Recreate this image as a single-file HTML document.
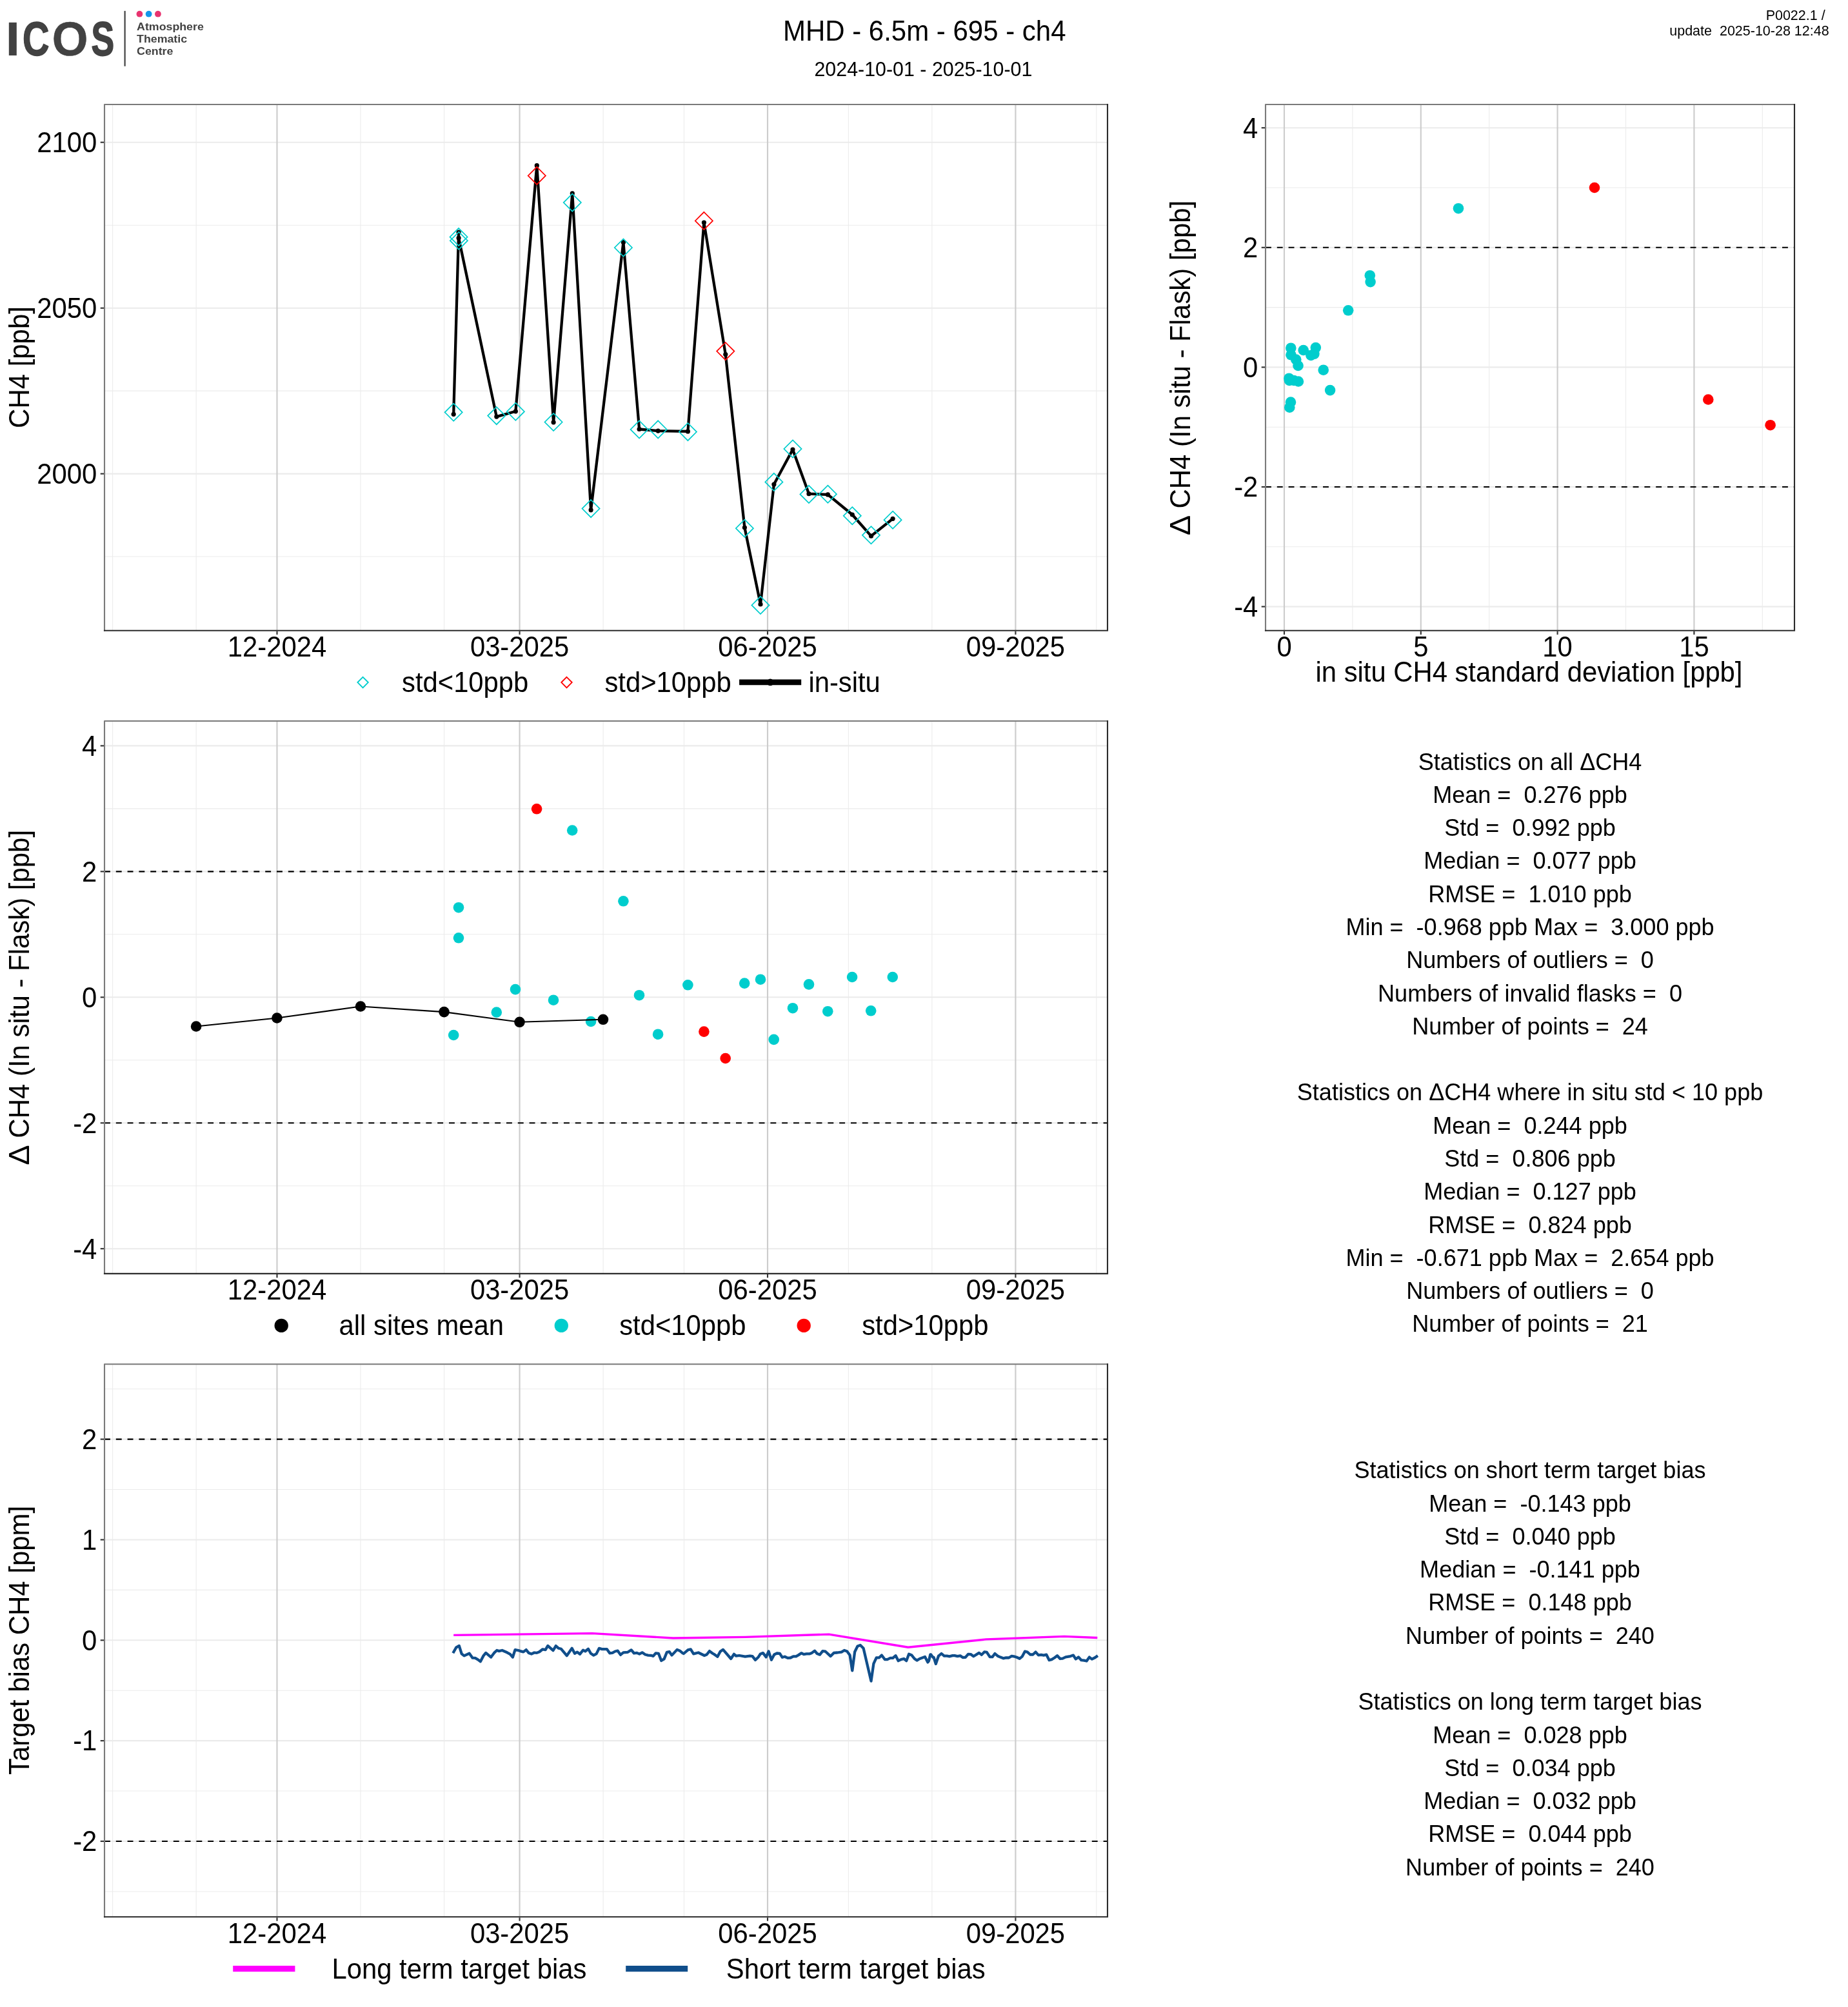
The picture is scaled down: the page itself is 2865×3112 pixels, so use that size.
<!DOCTYPE html>
<html><head><meta charset="utf-8"><title>MHD - 6.5m - 695 - ch4</title>
<style>
html,body{margin:0;padding:0;background:#fff;}
body{width:2865px;height:3112px;overflow:hidden;}
svg{display:block;will-change:transform;}
svg text{font-family:"Liberation Sans",sans-serif;fill:#000;white-space:pre;}
</style></head><body>
<svg width="2865" height="3112" viewBox="0 0 2865 3112">
<rect width="2865" height="3112" fill="#fff"/>

<!-- logo -->
<g font-weight="bold">
<text transform="translate(8.26 85.6) scale(1.108 1)" font-size="75" style="fill:#424242">I</text>
<text transform="translate(35.0 85.6) scale(0.765 1)" font-size="75" style="fill:#424242" stroke="#424242" stroke-width="1.6" stroke-linejoin="round">C</text>
<text transform="translate(80.72 85.6) scale(0.954 1)" font-size="75" style="fill:#424242" stroke="#424242" stroke-width="0.6" stroke-linejoin="round">O</text>
<text transform="translate(141.6 85.6) scale(0.712 1)" font-size="75" style="fill:#424242" stroke="#424242" stroke-width="1.8" stroke-linejoin="round">S</text>
<text transform="translate(212.05 46.9) scale(1.113 1)" font-size="16" style="fill:#424242">Atmosphere</text>
<text transform="translate(212.05 65.7) scale(1.113 1)" font-size="16" style="fill:#424242">Thematic</text>
<text transform="translate(212.05 84.5) scale(1.113 1)" font-size="16" style="fill:#424242">Centre</text>
</g>
<line x1="193.6" x2="193.6" y1="16.9" y2="102.7" stroke="#424242" stroke-width="2.2"/>
<circle cx="216.4" cy="21.7" r="4.9" fill="#e8336f"/><circle cx="230.6" cy="21.7" r="4.9" fill="#1496ea"/><circle cx="244.9" cy="21.7" r="4.9" fill="#e8336f"/>
<text transform="translate(1433.20 62.90) scale(1 1.04)" font-size="42.0" text-anchor="middle">MHD - 6.5m - 695 - ch4</text>
<text transform="translate(1431.40 117.80) scale(1 1.04)" font-size="30.4" text-anchor="middle">2024-10-01 - 2025-10-01</text>
<text transform="translate(2835.60 30.70) scale(1 1.04)" font-size="21.5" text-anchor="end">P0022.1 / </text>
<text transform="translate(2835.60 54.50) scale(1 1.04)" font-size="21.5" text-anchor="end">update  2025-10-28 12:48</text>
<!-- panel 1 -->
<line x1="174.60" x2="174.60" y1="162" y2="977.7" stroke="#ebebeb" stroke-width="1.07"/>
<line x1="304.14" x2="304.14" y1="162" y2="977.7" stroke="#ebebeb" stroke-width="1.07"/>
<line x1="559.03" x2="559.03" y1="162" y2="977.7" stroke="#ebebeb" stroke-width="1.07"/>
<line x1="688.57" x2="688.57" y1="162" y2="977.7" stroke="#ebebeb" stroke-width="1.07"/>
<line x1="935.11" x2="935.11" y1="162" y2="977.7" stroke="#ebebeb" stroke-width="1.07"/>
<line x1="1060.46" x2="1060.46" y1="162" y2="977.7" stroke="#ebebeb" stroke-width="1.07"/>
<line x1="1315.36" x2="1315.36" y1="162" y2="977.7" stroke="#ebebeb" stroke-width="1.07"/>
<line x1="1444.89" x2="1444.89" y1="162" y2="977.7" stroke="#ebebeb" stroke-width="1.07"/>
<line x1="1699.79" x2="1699.79" y1="162" y2="977.7" stroke="#ebebeb" stroke-width="1.07"/>
<line x1="162" x2="1717" y1="349.20" y2="349.20" stroke="#ebebeb" stroke-width="1.07"/>
<line x1="162" x2="1717" y1="606.10" y2="606.10" stroke="#ebebeb" stroke-width="1.07"/>
<line x1="162" x2="1717" y1="863.00" y2="863.00" stroke="#ebebeb" stroke-width="1.07"/>
<line x1="162" x2="1717" y1="220.70" y2="220.70" stroke="#ebebeb" stroke-width="2.13"/>
<line x1="162" x2="1717" y1="477.70" y2="477.70" stroke="#ebebeb" stroke-width="2.13"/>
<line x1="162" x2="1717" y1="734.60" y2="734.60" stroke="#ebebeb" stroke-width="2.13"/>
<line x1="429.49" x2="429.49" y1="162" y2="977.7" stroke="#cccccc" stroke-width="2.13"/>
<line x1="805.57" x2="805.57" y1="162" y2="977.7" stroke="#cccccc" stroke-width="2.13"/>
<line x1="1190.00" x2="1190.00" y1="162" y2="977.7" stroke="#cccccc" stroke-width="2.13"/>
<line x1="1574.43" x2="1574.43" y1="162" y2="977.7" stroke="#cccccc" stroke-width="2.13"/>
<polyline fill="none" stroke="#000" stroke-width="4.27" stroke-linejoin="round" stroke-linecap="butt" points="703.2,642.3 711.1,360.2 711.1,369.0 769.8,646.1 799.4,637.8 832.3,256.7 858.1,654.8 887.3,299.9 916.1,790.8 966.4,375.7 991.1,665.5 1020.2,668.1 1066.4,668.9 1091.4,345.0 1124.8,549.5 1154.4,818.0 1179.0,937.0 1199.9,751.0 1229.0,697.0 1254.0,765.7 1283.4,766.9 1321.3,798.0 1350.5,831.2 1384.1,804.3"/>
<g fill="#000"><circle cx="703.2" cy="642.3" r="3.6"/><circle cx="711.1" cy="360.2" r="3.6"/><circle cx="711.1" cy="369.0" r="3.6"/><circle cx="769.8" cy="646.1" r="3.6"/><circle cx="799.4" cy="637.8" r="3.6"/><circle cx="832.3" cy="256.7" r="3.6"/><circle cx="858.1" cy="654.8" r="3.6"/><circle cx="887.3" cy="299.9" r="3.6"/><circle cx="916.1" cy="790.8" r="3.6"/><circle cx="966.4" cy="375.7" r="3.6"/><circle cx="991.1" cy="665.5" r="3.6"/><circle cx="1020.2" cy="668.1" r="3.6"/><circle cx="1066.4" cy="668.9" r="3.6"/><circle cx="1091.4" cy="345.0" r="3.6"/><circle cx="1124.8" cy="549.5" r="3.6"/><circle cx="1154.4" cy="818.0" r="3.6"/><circle cx="1179.0" cy="937.0" r="3.6"/><circle cx="1199.9" cy="751.0" r="3.6"/><circle cx="1229.0" cy="697.0" r="3.6"/><circle cx="1254.0" cy="765.7" r="3.6"/><circle cx="1283.4" cy="766.9" r="3.6"/><circle cx="1321.3" cy="798.0" r="3.6"/><circle cx="1350.5" cy="831.2" r="3.6"/><circle cx="1384.1" cy="804.3" r="3.6"/></g>
<path d="M703.20 625.70L716.80 639.30L703.20 652.90L689.60 639.30Z" fill="none" stroke="#00cdcd" stroke-width="1.7"/>
<path d="M711.10 353.80L724.70 367.40L711.10 381.00L697.50 367.40Z" fill="none" stroke="#00cdcd" stroke-width="1.7"/>
<path d="M711.40 359.60L725.00 373.20L711.40 386.80L697.80 373.20Z" fill="none" stroke="#00cdcd" stroke-width="1.7"/>
<path d="M769.80 631.00L783.40 644.60L769.80 658.20L756.20 644.60Z" fill="none" stroke="#00cdcd" stroke-width="1.7"/>
<path d="M799.40 624.60L813.00 638.20L799.40 651.80L785.80 638.20Z" fill="none" stroke="#00cdcd" stroke-width="1.7"/>
<path d="M832.30 258.80L845.90 272.40L832.30 286.00L818.70 272.40Z" fill="none" stroke="#ff0000" stroke-width="1.7"/>
<path d="M858.10 640.90L871.70 654.50L858.10 668.10L844.50 654.50Z" fill="none" stroke="#00cdcd" stroke-width="1.7"/>
<path d="M887.30 300.50L900.90 314.10L887.30 327.70L873.70 314.10Z" fill="none" stroke="#00cdcd" stroke-width="1.7"/>
<path d="M916.10 775.00L929.70 788.60L916.10 802.20L902.50 788.60Z" fill="none" stroke="#00cdcd" stroke-width="1.7"/>
<path d="M966.40 370.40L980.00 384.00L966.40 397.60L952.80 384.00Z" fill="none" stroke="#00cdcd" stroke-width="1.7"/>
<path d="M991.10 652.30L1004.70 665.90L991.10 679.50L977.50 665.90Z" fill="none" stroke="#00cdcd" stroke-width="1.7"/>
<path d="M1020.20 652.30L1033.80 665.90L1020.20 679.50L1006.60 665.90Z" fill="none" stroke="#00cdcd" stroke-width="1.7"/>
<path d="M1066.40 656.00L1080.00 669.60L1066.40 683.20L1052.80 669.60Z" fill="none" stroke="#00cdcd" stroke-width="1.7"/>
<path d="M1091.40 328.80L1105.00 342.40L1091.40 356.00L1077.80 342.40Z" fill="none" stroke="#ff0000" stroke-width="1.7"/>
<path d="M1124.80 531.00L1138.40 544.60L1124.80 558.20L1111.20 544.60Z" fill="none" stroke="#ff0000" stroke-width="1.7"/>
<path d="M1154.40 805.60L1168.00 819.20L1154.40 832.80L1140.80 819.20Z" fill="none" stroke="#00cdcd" stroke-width="1.7"/>
<path d="M1179.00 924.80L1192.60 938.40L1179.00 952.00L1165.40 938.40Z" fill="none" stroke="#00cdcd" stroke-width="1.7"/>
<path d="M1199.90 733.80L1213.50 747.40L1199.90 761.00L1186.30 747.40Z" fill="none" stroke="#00cdcd" stroke-width="1.7"/>
<path d="M1229.00 682.40L1242.60 696.00L1229.00 709.60L1215.40 696.00Z" fill="none" stroke="#00cdcd" stroke-width="1.7"/>
<path d="M1254.00 752.80L1267.60 766.40L1254.00 780.00L1240.40 766.40Z" fill="none" stroke="#00cdcd" stroke-width="1.7"/>
<path d="M1283.40 752.60L1297.00 766.20L1283.40 779.80L1269.80 766.20Z" fill="none" stroke="#00cdcd" stroke-width="1.7"/>
<path d="M1321.30 786.20L1334.90 799.80L1321.30 813.40L1307.70 799.80Z" fill="none" stroke="#00cdcd" stroke-width="1.7"/>
<path d="M1350.50 816.20L1364.10 829.80L1350.50 843.40L1336.90 829.80Z" fill="none" stroke="#00cdcd" stroke-width="1.7"/>
<path d="M1384.10 792.60L1397.70 806.20L1384.10 819.80L1370.50 806.20Z" fill="none" stroke="#00cdcd" stroke-width="1.7"/>
<path d="M162 978.7700000000001V162H1718.07" fill="none" stroke="#7a7a7a" stroke-width="2.1" stroke-linejoin="round"/><path d="M160.93 977.7H1717V160.93" fill="none" stroke="#2b2b2b" stroke-width="2.1"/>
<line x1="155.70" x2="161.00" y1="220.70" y2="220.70" stroke="#333" stroke-width="2.13"/>
<text transform="translate(150.30 236.00) scale(1 1.04)" font-size="41.8" text-anchor="end">2100</text>
<line x1="155.70" x2="161.00" y1="477.70" y2="477.70" stroke="#333" stroke-width="2.13"/>
<text transform="translate(150.30 493.00) scale(1 1.04)" font-size="41.8" text-anchor="end">2050</text>
<line x1="155.70" x2="161.00" y1="734.60" y2="734.60" stroke="#333" stroke-width="2.13"/>
<text transform="translate(150.30 749.90) scale(1 1.04)" font-size="41.8" text-anchor="end">2000</text>
<line x1="429.49" x2="429.49" y1="978.70" y2="984.00" stroke="#333" stroke-width="2.13"/>
<text transform="translate(429.49 1018.00) scale(1 1.04)" font-size="41.8" text-anchor="middle">12-2024</text>
<line x1="805.57" x2="805.57" y1="978.70" y2="984.00" stroke="#333" stroke-width="2.13"/>
<text transform="translate(805.57 1018.00) scale(1 1.04)" font-size="41.8" text-anchor="middle">03-2025</text>
<line x1="1190.00" x2="1190.00" y1="978.70" y2="984.00" stroke="#333" stroke-width="2.13"/>
<text transform="translate(1190.00 1018.00) scale(1 1.04)" font-size="41.8" text-anchor="middle">06-2025</text>
<line x1="1574.43" x2="1574.43" y1="978.70" y2="984.00" stroke="#333" stroke-width="2.13"/>
<text transform="translate(1574.43 1018.00) scale(1 1.04)" font-size="41.8" text-anchor="middle">09-2025</text>
<text transform="translate(45.1 569.5) rotate(-90) scale(1 1.04)" text-anchor="middle" font-size="41.95">CH4 [ppb]</text>
<path d="M562.60 1049.90L570.80 1058.10L562.60 1066.30L554.40 1058.10Z" fill="none" stroke="#00cdcd" stroke-width="1.9"/>
<text transform="translate(623.00 1073.00) scale(1 1.04)" font-size="41.8">std&lt;10ppb</text>
<path d="M878.50 1049.90L886.70 1058.10L878.50 1066.30L870.30 1058.10Z" fill="none" stroke="#ff0000" stroke-width="1.9"/>
<text transform="translate(937.40 1073.00) scale(1 1.04)" font-size="41.8">std&gt;10ppb</text>
<line x1="1146.1" x2="1242.2" y1="1057.9" y2="1057.9" stroke="#000" stroke-width="8.6"/>
<circle cx="1194.2" cy="1057.9" r="5.3" fill="#000"/>
<text transform="translate(1253.40 1072.80) scale(1 1.04)" font-size="41.8">in-situ</text>
<!-- scatter -->
<line x1="2096.90" x2="2096.90" y1="162" y2="977.7" stroke="#ebebeb" stroke-width="1.07"/>
<line x1="2308.70" x2="2308.70" y1="162" y2="977.7" stroke="#ebebeb" stroke-width="1.07"/>
<line x1="2520.50" x2="2520.50" y1="162" y2="977.7" stroke="#ebebeb" stroke-width="1.07"/>
<line x1="2732.30" x2="2732.30" y1="162" y2="977.7" stroke="#ebebeb" stroke-width="1.07"/>
<line x1="1962" x2="2782" y1="291.00" y2="291.00" stroke="#ebebeb" stroke-width="1.07"/>
<line x1="1962" x2="2782" y1="476.60" y2="476.60" stroke="#ebebeb" stroke-width="1.07"/>
<line x1="1962" x2="2782" y1="662.20" y2="662.20" stroke="#ebebeb" stroke-width="1.07"/>
<line x1="1962" x2="2782" y1="847.80" y2="847.80" stroke="#ebebeb" stroke-width="1.07"/>
<line x1="1962" x2="2782" y1="198.20" y2="198.20" stroke="#ebebeb" stroke-width="2.13"/>
<line x1="1962" x2="2782" y1="383.80" y2="383.80" stroke="#ebebeb" stroke-width="2.13"/>
<line x1="1962" x2="2782" y1="569.40" y2="569.40" stroke="#ebebeb" stroke-width="2.13"/>
<line x1="1962" x2="2782" y1="755.00" y2="755.00" stroke="#ebebeb" stroke-width="2.13"/>
<line x1="1962" x2="2782" y1="940.60" y2="940.60" stroke="#ebebeb" stroke-width="2.13"/>
<line x1="1991.00" x2="1991.00" y1="162" y2="977.7" stroke="#cccccc" stroke-width="2.13"/>
<line x1="2202.80" x2="2202.80" y1="162" y2="977.7" stroke="#cccccc" stroke-width="2.13"/>
<line x1="2414.60" x2="2414.60" y1="162" y2="977.7" stroke="#cccccc" stroke-width="2.13"/>
<line x1="2626.40" x2="2626.40" y1="162" y2="977.7" stroke="#cccccc" stroke-width="2.13"/>
<line x1="1962" x2="2782" y1="383.80" y2="383.80" stroke="#000" stroke-width="2.13" stroke-dasharray="8.9 8.9"/>
<line x1="1962" x2="2782" y1="755.00" y2="755.00" stroke="#000" stroke-width="2.13" stroke-dasharray="8.9 8.9"/>
<g fill="#00cdcd"><circle cx="2123.8" cy="427.2" r="8.3"/><circle cx="2124.6" cy="437.1" r="8.3"/><circle cx="2090.2" cy="481.3" r="8.3"/><circle cx="2001.3" cy="539.7" r="8.3"/><circle cx="2020.7" cy="543.0" r="8.3"/><circle cx="2039.8" cy="539.1" r="8.3"/><circle cx="2001.5" cy="550.3" r="8.3"/><circle cx="2009.3" cy="557.5" r="8.3"/><circle cx="2032.4" cy="551.0" r="8.3"/><circle cx="2037.4" cy="548.8" r="8.3"/><circle cx="2012.5" cy="567.0" r="8.3"/><circle cx="2051.7" cy="573.7" r="8.3"/><circle cx="1998.4" cy="586.7" r="8.3"/><circle cx="1999.0" cy="590.0" r="8.3"/><circle cx="2006.0" cy="590.0" r="8.3"/><circle cx="2012.9" cy="591.5" r="8.3"/><circle cx="2062.1" cy="605.1" r="8.3"/><circle cx="2001.0" cy="623.5" r="8.3"/><circle cx="1999.3" cy="631.7" r="8.3"/><circle cx="2261.0" cy="323.2" r="8.3"/></g>
<g fill="#ff0000"><circle cx="2472.0" cy="291.0" r="8.3"/><circle cx="2648.3" cy="619.5" r="8.3"/><circle cx="2744.6" cy="659.2" r="8.3"/></g>
<path d="M1962 978.7700000000001V162H2783.07" fill="none" stroke="#7a7a7a" stroke-width="2.1" stroke-linejoin="round"/><path d="M1960.93 977.7H2782V160.93" fill="none" stroke="#2b2b2b" stroke-width="2.1"/>
<line x1="1955.70" x2="1961.00" y1="198.20" y2="198.20" stroke="#333" stroke-width="2.13"/>
<text transform="translate(1950.30 213.50) scale(1 1.04)" font-size="41.8" text-anchor="end">4</text>
<line x1="1955.70" x2="1961.00" y1="383.80" y2="383.80" stroke="#333" stroke-width="2.13"/>
<text transform="translate(1950.30 399.10) scale(1 1.04)" font-size="41.8" text-anchor="end">2</text>
<line x1="1955.70" x2="1961.00" y1="569.40" y2="569.40" stroke="#333" stroke-width="2.13"/>
<text transform="translate(1950.30 584.70) scale(1 1.04)" font-size="41.8" text-anchor="end">0</text>
<line x1="1955.70" x2="1961.00" y1="755.00" y2="755.00" stroke="#333" stroke-width="2.13"/>
<text transform="translate(1950.30 770.30) scale(1 1.04)" font-size="41.8" text-anchor="end">-2</text>
<line x1="1955.70" x2="1961.00" y1="940.60" y2="940.60" stroke="#333" stroke-width="2.13"/>
<text transform="translate(1950.30 955.90) scale(1 1.04)" font-size="41.8" text-anchor="end">-4</text>
<line x1="1991.00" x2="1991.00" y1="978.70" y2="984.00" stroke="#333" stroke-width="2.13"/>
<text transform="translate(1991.00 1018.00) scale(1 1.04)" font-size="41.8" text-anchor="middle">0</text>
<line x1="2202.80" x2="2202.80" y1="978.70" y2="984.00" stroke="#333" stroke-width="2.13"/>
<text transform="translate(2202.80 1018.00) scale(1 1.04)" font-size="41.8" text-anchor="middle">5</text>
<line x1="2414.60" x2="2414.60" y1="978.70" y2="984.00" stroke="#333" stroke-width="2.13"/>
<text transform="translate(2414.60 1018.00) scale(1 1.04)" font-size="41.8" text-anchor="middle">10</text>
<line x1="2626.40" x2="2626.40" y1="978.70" y2="984.00" stroke="#333" stroke-width="2.13"/>
<text transform="translate(2626.40 1018.00) scale(1 1.04)" font-size="41.8" text-anchor="middle">15</text>
<text transform="translate(1845.0 310.80) rotate(-90) scale(1 1.04)" text-anchor="end" font-size="41.95">CH4 (In situ - Flask) [ppb]</text><text transform="translate(1845.0 830.25) rotate(-90) scale(1.108 1.04)" font-size="42.5">Δ</text>
<text transform="translate(2370.50 1057.00) scale(1 1.04)" font-size="41.8" text-anchor="middle">in situ CH4 standard deviation [ppb]</text>
<!-- panel 2 -->
<line x1="174.60" x2="174.60" y1="1118.0" y2="1974.9" stroke="#ebebeb" stroke-width="1.07"/>
<line x1="304.14" x2="304.14" y1="1118.0" y2="1974.9" stroke="#ebebeb" stroke-width="1.07"/>
<line x1="559.03" x2="559.03" y1="1118.0" y2="1974.9" stroke="#ebebeb" stroke-width="1.07"/>
<line x1="688.57" x2="688.57" y1="1118.0" y2="1974.9" stroke="#ebebeb" stroke-width="1.07"/>
<line x1="935.11" x2="935.11" y1="1118.0" y2="1974.9" stroke="#ebebeb" stroke-width="1.07"/>
<line x1="1060.46" x2="1060.46" y1="1118.0" y2="1974.9" stroke="#ebebeb" stroke-width="1.07"/>
<line x1="1315.36" x2="1315.36" y1="1118.0" y2="1974.9" stroke="#ebebeb" stroke-width="1.07"/>
<line x1="1444.89" x2="1444.89" y1="1118.0" y2="1974.9" stroke="#ebebeb" stroke-width="1.07"/>
<line x1="1699.79" x2="1699.79" y1="1118.0" y2="1974.9" stroke="#ebebeb" stroke-width="1.07"/>
<line x1="162" x2="1717" y1="1253.88" y2="1253.88" stroke="#ebebeb" stroke-width="1.07"/>
<line x1="162" x2="1717" y1="1448.83" y2="1448.83" stroke="#ebebeb" stroke-width="1.07"/>
<line x1="162" x2="1717" y1="1643.77" y2="1643.77" stroke="#ebebeb" stroke-width="1.07"/>
<line x1="162" x2="1717" y1="1838.72" y2="1838.72" stroke="#ebebeb" stroke-width="1.07"/>
<line x1="162" x2="1717" y1="1156.40" y2="1156.40" stroke="#ebebeb" stroke-width="2.13"/>
<line x1="162" x2="1717" y1="1351.35" y2="1351.35" stroke="#ebebeb" stroke-width="2.13"/>
<line x1="162" x2="1717" y1="1546.30" y2="1546.30" stroke="#ebebeb" stroke-width="2.13"/>
<line x1="162" x2="1717" y1="1741.25" y2="1741.25" stroke="#ebebeb" stroke-width="2.13"/>
<line x1="162" x2="1717" y1="1936.20" y2="1936.20" stroke="#ebebeb" stroke-width="2.13"/>
<line x1="429.49" x2="429.49" y1="1118.0" y2="1974.9" stroke="#cccccc" stroke-width="2.13"/>
<line x1="805.57" x2="805.57" y1="1118.0" y2="1974.9" stroke="#cccccc" stroke-width="2.13"/>
<line x1="1190.00" x2="1190.00" y1="1118.0" y2="1974.9" stroke="#cccccc" stroke-width="2.13"/>
<line x1="1574.43" x2="1574.43" y1="1118.0" y2="1974.9" stroke="#cccccc" stroke-width="2.13"/>
<line x1="162" x2="1717" y1="1351.35" y2="1351.35" stroke="#000" stroke-width="2.13" stroke-dasharray="8.9 8.9"/>
<line x1="162" x2="1717" y1="1741.25" y2="1741.25" stroke="#000" stroke-width="2.13" stroke-dasharray="8.9 8.9"/>
<circle cx="703.2" cy="1605.0" r="8.3" fill="#00cdcd"/>
<circle cx="711.0" cy="1407.2" r="8.3" fill="#00cdcd"/>
<circle cx="711.0" cy="1454.3" r="8.3" fill="#00cdcd"/>
<circle cx="769.8" cy="1569.6" r="8.3" fill="#00cdcd"/>
<circle cx="799.0" cy="1534.1" r="8.3" fill="#00cdcd"/>
<circle cx="832.1" cy="1254.3" r="8.3" fill="#ff0000"/>
<circle cx="858.0" cy="1550.7" r="8.3" fill="#00cdcd"/>
<circle cx="887.2" cy="1287.5" r="8.3" fill="#00cdcd"/>
<circle cx="916.1" cy="1584.0" r="8.3" fill="#00cdcd"/>
<circle cx="966.4" cy="1397.3" r="8.3" fill="#00cdcd"/>
<circle cx="991.0" cy="1543.2" r="8.3" fill="#00cdcd"/>
<circle cx="1020.1" cy="1603.7" r="8.3" fill="#00cdcd"/>
<circle cx="1066.4" cy="1527.3" r="8.3" fill="#00cdcd"/>
<circle cx="1091.4" cy="1599.6" r="8.3" fill="#ff0000"/>
<circle cx="1124.7" cy="1641.0" r="8.3" fill="#ff0000"/>
<circle cx="1154.2" cy="1524.6" r="8.3" fill="#00cdcd"/>
<circle cx="1179.0" cy="1518.7" r="8.3" fill="#00cdcd"/>
<circle cx="1199.7" cy="1611.9" r="8.3" fill="#00cdcd"/>
<circle cx="1229.0" cy="1563.2" r="8.3" fill="#00cdcd"/>
<circle cx="1254.0" cy="1526.4" r="8.3" fill="#00cdcd"/>
<circle cx="1283.3" cy="1568.2" r="8.3" fill="#00cdcd"/>
<circle cx="1321.1" cy="1515.0" r="8.3" fill="#00cdcd"/>
<circle cx="1350.2" cy="1567.3" r="8.3" fill="#00cdcd"/>
<circle cx="1383.8" cy="1515.0" r="8.3" fill="#00cdcd"/>
<polyline fill="none" stroke="#000" stroke-width="2.13" points="304.1,1591.5 429.4,1578.5 559.0,1560.5 688.5,1569.1 805.5,1584.8 935.0,1580.8"/>
<g fill="#000"><circle cx="304.1" cy="1591.5" r="8.3"/><circle cx="429.4" cy="1578.5" r="8.3"/><circle cx="559.0" cy="1560.5" r="8.3"/><circle cx="688.5" cy="1569.1" r="8.3"/><circle cx="805.5" cy="1584.8" r="8.3"/><circle cx="935.0" cy="1580.8" r="8.3"/></g>
<path d="M162 1975.97V1118.0H1718.07" fill="none" stroke="#7a7a7a" stroke-width="2.1" stroke-linejoin="round"/><path d="M160.93 1974.9H1717V1116.93" fill="none" stroke="#2b2b2b" stroke-width="2.1"/>
<line x1="155.70" x2="161.00" y1="1156.40" y2="1156.40" stroke="#333" stroke-width="2.13"/>
<text transform="translate(150.30 1171.70) scale(1 1.04)" font-size="41.8" text-anchor="end">4</text>
<line x1="155.70" x2="161.00" y1="1351.35" y2="1351.35" stroke="#333" stroke-width="2.13"/>
<text transform="translate(150.30 1366.65) scale(1 1.04)" font-size="41.8" text-anchor="end">2</text>
<line x1="155.70" x2="161.00" y1="1546.30" y2="1546.30" stroke="#333" stroke-width="2.13"/>
<text transform="translate(150.30 1561.60) scale(1 1.04)" font-size="41.8" text-anchor="end">0</text>
<line x1="155.70" x2="161.00" y1="1741.25" y2="1741.25" stroke="#333" stroke-width="2.13"/>
<text transform="translate(150.30 1756.55) scale(1 1.04)" font-size="41.8" text-anchor="end">-2</text>
<line x1="155.70" x2="161.00" y1="1936.20" y2="1936.20" stroke="#333" stroke-width="2.13"/>
<text transform="translate(150.30 1951.50) scale(1 1.04)" font-size="41.8" text-anchor="end">-4</text>
<line x1="429.49" x2="429.49" y1="1975.90" y2="1981.20" stroke="#333" stroke-width="2.13"/>
<text transform="translate(429.49 2014.90) scale(1 1.04)" font-size="41.8" text-anchor="middle">12-2024</text>
<line x1="805.57" x2="805.57" y1="1975.90" y2="1981.20" stroke="#333" stroke-width="2.13"/>
<text transform="translate(805.57 2014.90) scale(1 1.04)" font-size="41.8" text-anchor="middle">03-2025</text>
<line x1="1190.00" x2="1190.00" y1="1975.90" y2="1981.20" stroke="#333" stroke-width="2.13"/>
<text transform="translate(1190.00 2014.90) scale(1 1.04)" font-size="41.8" text-anchor="middle">06-2025</text>
<line x1="1574.43" x2="1574.43" y1="1975.90" y2="1981.20" stroke="#333" stroke-width="2.13"/>
<text transform="translate(1574.43 2014.90) scale(1 1.04)" font-size="41.8" text-anchor="middle">09-2025</text>
<text transform="translate(45.0 1286.90) rotate(-90) scale(1 1.04)" text-anchor="end" font-size="41.95">CH4 (In situ - Flask) [ppb]</text><text transform="translate(45.0 1806.85) rotate(-90) scale(1.108 1.04)" font-size="42.5">Δ</text>
<circle cx="436.2" cy="2055.4" r="10.65" fill="#000"/>
<text transform="translate(525.60 2069.60) scale(1 1.04)" font-size="41.8">all sites mean</text>
<circle cx="870.3" cy="2055.4" r="10.65" fill="#00cdcd"/>
<text transform="translate(960.20 2069.60) scale(1 1.04)" font-size="41.8">std&lt;10ppb</text>
<circle cx="1246.2" cy="2055.4" r="10.65" fill="#ff0000"/>
<text transform="translate(1336.20 2069.60) scale(1 1.04)" font-size="41.8">std&gt;10ppb</text>
<!-- panel 3 -->
<line x1="174.60" x2="174.60" y1="2115.2" y2="2972.3" stroke="#ebebeb" stroke-width="1.07"/>
<line x1="304.14" x2="304.14" y1="2115.2" y2="2972.3" stroke="#ebebeb" stroke-width="1.07"/>
<line x1="559.03" x2="559.03" y1="2115.2" y2="2972.3" stroke="#ebebeb" stroke-width="1.07"/>
<line x1="688.57" x2="688.57" y1="2115.2" y2="2972.3" stroke="#ebebeb" stroke-width="1.07"/>
<line x1="935.11" x2="935.11" y1="2115.2" y2="2972.3" stroke="#ebebeb" stroke-width="1.07"/>
<line x1="1060.46" x2="1060.46" y1="2115.2" y2="2972.3" stroke="#ebebeb" stroke-width="1.07"/>
<line x1="1315.36" x2="1315.36" y1="2115.2" y2="2972.3" stroke="#ebebeb" stroke-width="1.07"/>
<line x1="1444.89" x2="1444.89" y1="2115.2" y2="2972.3" stroke="#ebebeb" stroke-width="1.07"/>
<line x1="1699.79" x2="1699.79" y1="2115.2" y2="2972.3" stroke="#ebebeb" stroke-width="1.07"/>
<line x1="162" x2="1717" y1="2153.68" y2="2153.68" stroke="#ebebeb" stroke-width="1.07"/>
<line x1="162" x2="1717" y1="2309.53" y2="2309.53" stroke="#ebebeb" stroke-width="1.07"/>
<line x1="162" x2="1717" y1="2465.38" y2="2465.38" stroke="#ebebeb" stroke-width="1.07"/>
<line x1="162" x2="1717" y1="2621.23" y2="2621.23" stroke="#ebebeb" stroke-width="1.07"/>
<line x1="162" x2="1717" y1="2777.08" y2="2777.08" stroke="#ebebeb" stroke-width="1.07"/>
<line x1="162" x2="1717" y1="2932.93" y2="2932.93" stroke="#ebebeb" stroke-width="1.07"/>
<line x1="162" x2="1717" y1="2231.60" y2="2231.60" stroke="#ebebeb" stroke-width="2.13"/>
<line x1="162" x2="1717" y1="2387.45" y2="2387.45" stroke="#ebebeb" stroke-width="2.13"/>
<line x1="162" x2="1717" y1="2543.30" y2="2543.30" stroke="#ebebeb" stroke-width="2.13"/>
<line x1="162" x2="1717" y1="2699.15" y2="2699.15" stroke="#ebebeb" stroke-width="2.13"/>
<line x1="162" x2="1717" y1="2855.00" y2="2855.00" stroke="#ebebeb" stroke-width="2.13"/>
<line x1="429.49" x2="429.49" y1="2115.2" y2="2972.3" stroke="#cccccc" stroke-width="2.13"/>
<line x1="805.57" x2="805.57" y1="2115.2" y2="2972.3" stroke="#cccccc" stroke-width="2.13"/>
<line x1="1190.00" x2="1190.00" y1="2115.2" y2="2972.3" stroke="#cccccc" stroke-width="2.13"/>
<line x1="1574.43" x2="1574.43" y1="2115.2" y2="2972.3" stroke="#cccccc" stroke-width="2.13"/>
<line x1="162" x2="1717" y1="2231.60" y2="2231.60" stroke="#000" stroke-width="2.13" stroke-dasharray="8.9 8.9"/>
<line x1="162" x2="1717" y1="2855.00" y2="2855.00" stroke="#000" stroke-width="2.13" stroke-dasharray="8.9 8.9"/>
<polyline fill="none" stroke="#ff00ff" stroke-width="3.4" stroke-linejoin="round" points="703.2,2535.4 918.1,2532.6 1043.6,2540.0 1155.2,2538.4 1285.1,2534.1 1407.8,2554.2 1528.7,2541.9 1650.0,2537.4 1701.3,2539.5"/>
<polyline fill="none" stroke="#104e8b" stroke-width="4.27" stroke-linejoin="round" stroke-linecap="butt" points="702.3,2563.3 707.1,2554.7 711.8,2551.9 715.7,2564.4 719.6,2567.4 727.6,2563.8 732.6,2570.7 736.7,2570.9 740.6,2573.1 744.9,2576.3 749.3,2567.7 753.2,2562.9 761.2,2569.6 766.1,2562.9 770.3,2559.0 773.7,2560.1 778.5,2559.0 786.1,2562.3 790.8,2564.8 794.9,2569.6 798.6,2558.1 803.4,2559.0 806.6,2560.1 811.4,2561.4 815.7,2558.1 819.6,2562.9 823.9,2564.6 828.3,2562.5 832.2,2562.9 836.3,2561.2 841.3,2557.3 845.6,2558.1 849.3,2551.9 857.5,2559.2 861.8,2552.1 866.1,2555.8 870.0,2556.8 878.7,2567.2 886.7,2555.8 891.0,2563.8 894.9,2561.6 899.0,2564.8 904.0,2558.6 907.3,2560.5 912.0,2556.8 915.9,2563.8 920.3,2566.6 924.6,2564.4 928.9,2555.8 933.2,2557.1 940.8,2557.1 945.2,2563.3 949.5,2562.9 953.8,2560.5 957.7,2559.7 962.0,2565.9 966.4,2562.3 973.3,2561.8 978.7,2558.4 983.0,2563.5 987.4,2562.9 991.3,2564.6 995.6,2562.3 1000.3,2565.5 1004.7,2566.6 1009.0,2566.8 1012.7,2567.9 1016.6,2563.3 1020.9,2563.8 1025.2,2575.0 1029.6,2572.4 1033.9,2561.8 1037.8,2561.2 1041.5,2566.6 1049.7,2557.9 1054.0,2559.7 1058.4,2563.3 1060.0,2564.0 1066.5,2558.4 1070.8,2557.3 1075.2,2564.4 1082.7,2562.5 1092.0,2567.0 1095.7,2565.5 1100.0,2560.1 1104.4,2563.5 1108.1,2565.7 1112.4,2568.7 1116.7,2560.7 1121.0,2557.9 1133.2,2572.0 1137.9,2564.8 1141.2,2567.7 1146.1,2567.0 1155.2,2568.7 1162.8,2567.7 1166.5,2568.1 1171.0,2573.9 1175.4,2569.8 1178.6,2564.8 1182.9,2563.1 1187.7,2569.4 1191.6,2560.5 1195.9,2573.7 1200.3,2565.5 1204.6,2563.5 1208.9,2563.8 1212.8,2569.8 1216.7,2568.7 1221.3,2570.9 1225.6,2570.5 1229.9,2568.3 1234.2,2568.3 1238.1,2566.1 1242.3,2563.3 1246.1,2565.1 1250.5,2564.4 1254.8,2564.4 1258.7,2562.9 1263.0,2559.7 1266.7,2564.0 1271.0,2565.7 1275.4,2560.1 1279.7,2560.7 1287.7,2568.1 1292.7,2562.9 1298.1,2562.5 1304.6,2561.6 1308.9,2559.0 1313.2,2560.5 1317.6,2566.6 1321.3,2590.4 1325.2,2561.2 1329.5,2552.5 1333.8,2551.0 1338.6,2555.8 1350.5,2606.6 1354.4,2579.6 1358.7,2570.3 1363.0,2570.3 1366.9,2566.6 1371.7,2573.1 1375.6,2573.1 1380.3,2570.9 1384.2,2570.9 1388.6,2567.2 1392.7,2575.2 1397.0,2573.1 1401.3,2572.0 1405.2,2575.2 1409.1,2564.8 1413.5,2566.6 1417.8,2572.0 1421.5,2574.6 1425.8,2572.0 1434.0,2569.0 1438.4,2577.4 1440.0,2575.2 1442.3,2565.5 1443.2,2565.5 1446.4,2569.8 1447.6,2569.8 1450.7,2579.6 1450.8,2580.0 1455.0,2567.7 1455.2,2567.7 1459.5,2564.0 1463.8,2567.7 1468.1,2567.7 1472.0,2568.3 1476.8,2567.2 1480.0,2567.2 1484.4,2568.1 1488.7,2567.4 1492.6,2570.0 1496.7,2569.8 1501.0,2564.8 1504.9,2565.1 1509.3,2568.3 1517.9,2562.9 1521.8,2565.9 1526.1,2561.4 1529.8,2561.8 1534.6,2569.2 1538.5,2569.2 1542.4,2564.0 1546.7,2567.7 1551.0,2569.6 1555.4,2571.3 1559.7,2570.3 1564.0,2570.5 1568.4,2567.9 1573.1,2568.7 1576.4,2569.8 1580.7,2571.8 1584.6,2568.7 1588.9,2560.7 1592.8,2561.6 1597.1,2565.5 1601.3,2565.5 1605.6,2561.6 1609.9,2566.4 1614.2,2565.9 1618.1,2566.6 1622.3,2565.7 1626.6,2574.2 1630.5,2573.1 1634.8,2570.5 1639.1,2567.2 1643.5,2572.0 1647.4,2571.6 1652.1,2569.4 1659.7,2568.1 1664.0,2566.6 1667.7,2572.4 1672.0,2569.4 1676.4,2574.2 1680.7,2574.6 1684.6,2575.5 1688.9,2569.6 1692.8,2572.6 1697.6,2570.3 1701.9,2567.2"/>
<path d="M162 2973.3700000000003V2115.2H1718.07" fill="none" stroke="#7a7a7a" stroke-width="2.1" stroke-linejoin="round"/><path d="M160.93 2972.3H1717V2114.1299999999997" fill="none" stroke="#2b2b2b" stroke-width="2.1"/>
<line x1="155.70" x2="161.00" y1="2231.60" y2="2231.60" stroke="#333" stroke-width="2.13"/>
<text transform="translate(150.30 2246.90) scale(1 1.04)" font-size="41.8" text-anchor="end">2</text>
<line x1="155.70" x2="161.00" y1="2387.45" y2="2387.45" stroke="#333" stroke-width="2.13"/>
<text transform="translate(150.30 2402.75) scale(1 1.04)" font-size="41.8" text-anchor="end">1</text>
<line x1="155.70" x2="161.00" y1="2543.30" y2="2543.30" stroke="#333" stroke-width="2.13"/>
<text transform="translate(150.30 2558.60) scale(1 1.04)" font-size="41.8" text-anchor="end">0</text>
<line x1="155.70" x2="161.00" y1="2699.15" y2="2699.15" stroke="#333" stroke-width="2.13"/>
<text transform="translate(150.30 2714.45) scale(1 1.04)" font-size="41.8" text-anchor="end">-1</text>
<line x1="155.70" x2="161.00" y1="2855.00" y2="2855.00" stroke="#333" stroke-width="2.13"/>
<text transform="translate(150.30 2870.30) scale(1 1.04)" font-size="41.8" text-anchor="end">-2</text>
<line x1="429.49" x2="429.49" y1="2973.30" y2="2978.60" stroke="#333" stroke-width="2.13"/>
<text transform="translate(429.49 3012.90) scale(1 1.04)" font-size="41.8" text-anchor="middle">12-2024</text>
<line x1="805.57" x2="805.57" y1="2973.30" y2="2978.60" stroke="#333" stroke-width="2.13"/>
<text transform="translate(805.57 3012.90) scale(1 1.04)" font-size="41.8" text-anchor="middle">03-2025</text>
<line x1="1190.00" x2="1190.00" y1="2973.30" y2="2978.60" stroke="#333" stroke-width="2.13"/>
<text transform="translate(1190.00 3012.90) scale(1 1.04)" font-size="41.8" text-anchor="middle">06-2025</text>
<line x1="1574.43" x2="1574.43" y1="2973.30" y2="2978.60" stroke="#333" stroke-width="2.13"/>
<text transform="translate(1574.43 3012.90) scale(1 1.04)" font-size="41.8" text-anchor="middle">09-2025</text>
<text transform="translate(45.0 2543.45) rotate(-90) scale(1 1.04)" text-anchor="middle" font-size="41.95">Target bias CH4 [ppm]</text>
<line x1="361.2" x2="457.4" y1="3052.6" y2="3052.6" stroke="#ff00ff" stroke-width="9.4"/>
<text transform="translate(514.50 3068.00) scale(1 1.04)" font-size="41.8">Long term target bias</text>
<line x1="970.2" x2="1066.2" y1="3052.6" y2="3052.6" stroke="#104e8b" stroke-width="9.4"/>
<text transform="translate(1125.80 3068.00) scale(1 1.04)" font-size="41.8">Short term target bias</text>
<!-- stats -->
<g>
<text transform="translate(2372.00 1193.60) scale(1 1.04)" font-size="36.07" text-anchor="middle" xml:space="preserve">Statistics on all ΔCH4</text>
<text transform="translate(2372.00 1244.88) scale(1 1.04)" font-size="36.07" text-anchor="middle" xml:space="preserve">Mean =  0.276 ppb</text>
<text transform="translate(2372.00 1296.16) scale(1 1.04)" font-size="36.07" text-anchor="middle" xml:space="preserve">Std =  0.992 ppb</text>
<text transform="translate(2372.00 1347.44) scale(1 1.04)" font-size="36.07" text-anchor="middle" xml:space="preserve">Median =  0.077 ppb</text>
<text transform="translate(2372.00 1398.72) scale(1 1.04)" font-size="36.07" text-anchor="middle" xml:space="preserve">RMSE =  1.010 ppb</text>
<text transform="translate(2372.00 1450.00) scale(1 1.04)" font-size="36.07" text-anchor="middle" xml:space="preserve">Min =  -0.968 ppb Max =  3.000 ppb</text>
<text transform="translate(2372.00 1501.28) scale(1 1.04)" font-size="36.07" text-anchor="middle" xml:space="preserve">Numbers of outliers =  0</text>
<text transform="translate(2372.00 1552.56) scale(1 1.04)" font-size="36.07" text-anchor="middle" xml:space="preserve">Numbers of invalid flasks =  0</text>
<text transform="translate(2372.00 1603.84) scale(1 1.04)" font-size="36.07" text-anchor="middle" xml:space="preserve">Number of points =  24</text>
<text transform="translate(2372.00 1706.40) scale(1 1.04)" font-size="36.07" text-anchor="middle" xml:space="preserve">Statistics on ΔCH4 where in situ std &lt; 10 ppb</text>
<text transform="translate(2372.00 1757.68) scale(1 1.04)" font-size="36.07" text-anchor="middle" xml:space="preserve">Mean =  0.244 ppb</text>
<text transform="translate(2372.00 1808.96) scale(1 1.04)" font-size="36.07" text-anchor="middle" xml:space="preserve">Std =  0.806 ppb</text>
<text transform="translate(2372.00 1860.24) scale(1 1.04)" font-size="36.07" text-anchor="middle" xml:space="preserve">Median =  0.127 ppb</text>
<text transform="translate(2372.00 1911.52) scale(1 1.04)" font-size="36.07" text-anchor="middle" xml:space="preserve">RMSE =  0.824 ppb</text>
<text transform="translate(2372.00 1962.80) scale(1 1.04)" font-size="36.07" text-anchor="middle" xml:space="preserve">Min =  -0.671 ppb Max =  2.654 ppb</text>
<text transform="translate(2372.00 2014.08) scale(1 1.04)" font-size="36.07" text-anchor="middle" xml:space="preserve">Numbers of outliers =  0</text>
<text transform="translate(2372.00 2065.36) scale(1 1.04)" font-size="36.07" text-anchor="middle" xml:space="preserve">Number of points =  21</text>
<text transform="translate(2372.00 2292.30) scale(1 1.04)" font-size="36.07" text-anchor="middle" xml:space="preserve">Statistics on short term target bias</text>
<text transform="translate(2372.00 2343.58) scale(1 1.04)" font-size="36.07" text-anchor="middle" xml:space="preserve">Mean =  -0.143 ppb</text>
<text transform="translate(2372.00 2394.86) scale(1 1.04)" font-size="36.07" text-anchor="middle" xml:space="preserve">Std =  0.040 ppb</text>
<text transform="translate(2372.00 2446.14) scale(1 1.04)" font-size="36.07" text-anchor="middle" xml:space="preserve">Median =  -0.141 ppb</text>
<text transform="translate(2372.00 2497.42) scale(1 1.04)" font-size="36.07" text-anchor="middle" xml:space="preserve">RMSE =  0.148 ppb</text>
<text transform="translate(2372.00 2548.70) scale(1 1.04)" font-size="36.07" text-anchor="middle" xml:space="preserve">Number of points =  240</text>
<text transform="translate(2372.00 2651.26) scale(1 1.04)" font-size="36.07" text-anchor="middle" xml:space="preserve">Statistics on long term target bias</text>
<text transform="translate(2372.00 2702.54) scale(1 1.04)" font-size="36.07" text-anchor="middle" xml:space="preserve">Mean =  0.028 ppb</text>
<text transform="translate(2372.00 2753.82) scale(1 1.04)" font-size="36.07" text-anchor="middle" xml:space="preserve">Std =  0.034 ppb</text>
<text transform="translate(2372.00 2805.10) scale(1 1.04)" font-size="36.07" text-anchor="middle" xml:space="preserve">Median =  0.032 ppb</text>
<text transform="translate(2372.00 2856.38) scale(1 1.04)" font-size="36.07" text-anchor="middle" xml:space="preserve">RMSE =  0.044 ppb</text>
<text transform="translate(2372.00 2907.66) scale(1 1.04)" font-size="36.07" text-anchor="middle" xml:space="preserve">Number of points =  240</text>
</g>
</svg></body></html>
